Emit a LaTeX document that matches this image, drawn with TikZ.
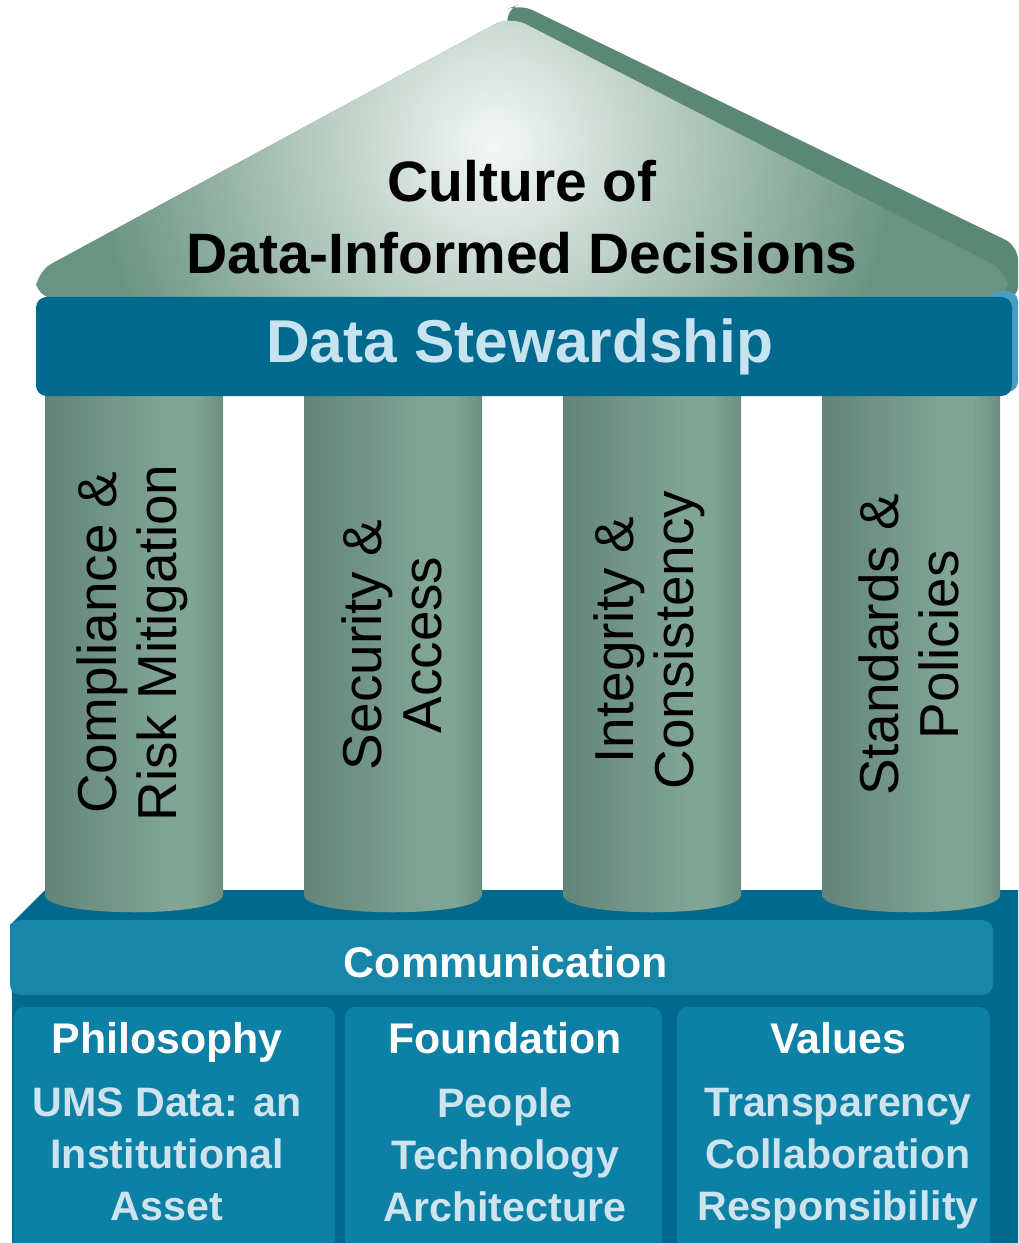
\documentclass[tikz,border=0pt]{standalone}
\usepackage{fontspec}
\setmainfont{Liberation Sans}

\definecolor{roofgreen}{HTML}{6A9481}
\definecolor{roofhi}{HTML}{F4F8F6}
\definecolor{roofside}{HTML}{5A8874}
\definecolor{beamblue}{HTML}{00698E}
\definecolor{beamside}{HTML}{4C9DC2}
\definecolor{beamtext}{HTML}{C8E3F0}
\definecolor{commblue}{HTML}{1886A8}
\definecolor{boxblue}{HTML}{0C80A5}
\definecolor{subtext}{HTML}{CDE3EE}
\definecolor{pilA}{HTML}{62847A}
\definecolor{pilB}{HTML}{80A595}
\definecolor{pilC}{HTML}{6C8F80}

\pgfdeclarehorizontalshading{pillarshade}{100bp}{color(0bp)=(pilA); color(25bp)=(pilA); color(60bp)=(pilB); color(67bp)=(pilB); color(75bp)=(pilC); color(100bp)=(pilC)}

\tikzset{
  title/.style={font=\bfseries\fontsize{16.2}{20.5}\selectfont, align=center, inner sep=0pt},
  beamlabel/.style={font=\bfseries\fontsize{17.2}{20}\selectfont, text=beamtext, inner sep=0pt},
  pillarlabel/.style={font=\fontsize{15.6}{17}\selectfont, align=center, rotate=90, inner sep=0pt},
  baselabel/.style={font=\bfseries\fontsize{12.2}{14}\selectfont, text=white, inner sep=0pt},
  sublabel/.style={font=\bfseries\fontsize{11.7}{14.8}\selectfont, text=subtext, align=center, inner sep=0pt, anchor=north},
}

\begin{document}
\begin{tikzpicture}[x=0.01cm, y=-0.01cm]

  \useasboundingbox (0,0) rectangle (1018,1243);

  % base block
  \fill[beamblue] (10,925) -- (45,890) -- (1018,890) -- (1018,1243) -- (12,1243) -- (12,1000) -- cycle;

  % pillars
  \foreach \x in {45,304,563,822} {
    \shade[shading=pillarshade] (\x,390) -- (\x,895) .. controls (\x,918) and (\x+178,918) .. (\x+178,895) -- (\x+178,390) -- cycle;
  }

  % roof
  \fill[roofside, rounded corners=4pt] (505,10) -- (520,4) -- (1018,246) -- (1018,300) -- (560,300) -- cycle;
  \begin{scope}
  \clip[rounded corners=5pt] (36,298) -- (36,272) -- (510,16) -- (1008,272) -- (1008,298) -- cycle;
  \fill[roofgreen] (0,0) rectangle (1018,300);
  \shade[inner color=roofhi, outer color=roofgreen] (495,145) circle (400);
  \end{scope}

  % beam
  \fill[beamside, rounded corners=3pt] (990,291) rectangle (1018,392);
  \fill[beamblue, rounded corners=3pt] (36,297) rectangle (1012,396);

  % communication and boxes
  \fill[commblue, rounded corners=3pt] (10,920) rectangle (993,995);
  \fill[boxblue, rounded corners=3pt] (14,1243) -- (14,1007) -- (335,1007) -- (335,1243);
  \fill[boxblue, rounded corners=3pt] (345,1243) -- (345,1007) -- (662,1007) -- (662,1243);
  \fill[boxblue, rounded corners=3pt] (677,1243) -- (677,1007) -- (990,1007) -- (990,1243);

  \node[title] (culture) at (522,217) {Culture of\\Data-Informed Decisions};
  \node[beamlabel] (steward) at (520,347) {Data Stewardship};

  \node[pillarlabel] (compliance) at (132,643) {Compliance \&\\Risk Mitigation};
  \node[pillarlabel] (security) at (392,645) {Security \&\\Access};
  \node[pillarlabel] (integrity) at (649,640) {Integrity \&\\Consistency};
  \node[pillarlabel] (standards) at (909,645) {Standards \&\\Policies};

  \node[baselabel] (comm) at (506,962) {Communication};

  \node[baselabel, anchor=base] (philosophy) at (167,1053) {Philosophy};
  \node[baselabel, anchor=base] (foundation) at (505,1053) {Foundation};
  \node[baselabel, anchor=base] (values) at (838,1053) {Values};

  \node[sublabel] (asset) at (167,1087) {UMS Data: an\\Institutional\\Asset};
  \node[sublabel] (people) at (505,1087) {People\\Technology\\Architecture};
  \node[sublabel] (transp) at (838,1087) {Transparency\\Collaboration\\Responsibility};

\end{tikzpicture}
\end{document}
